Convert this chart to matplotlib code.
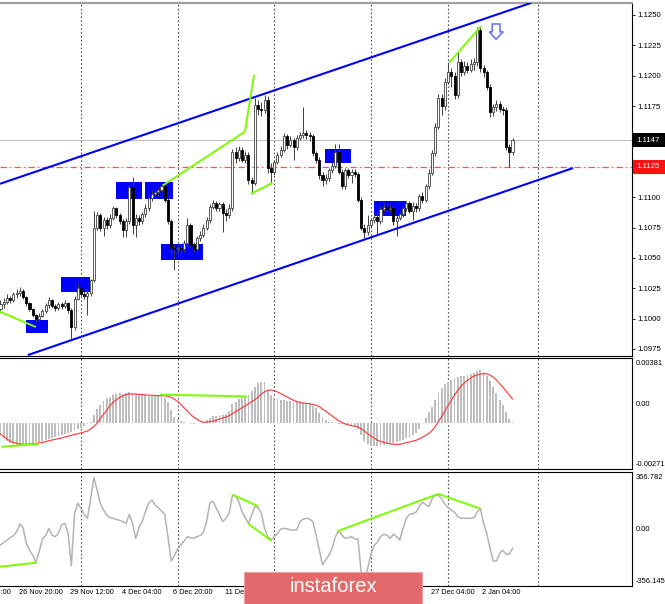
import matplotlib
matplotlib.use("Agg")
import matplotlib.pyplot as plt
import matplotlib.transforms as mtransforms
from matplotlib.patches import Rectangle, Polygon
import numpy as np

plt.rcParams['font.family'] = ['Liberation Sans', 'DejaVu Sans']

# ---------------- data (EURUSD H4) ----------------
first_open = 1.1008
closes = [
    1.1012, 1.1014, 1.1017, 1.1015, 1.1020, 1.1021, 1.1023, 1.1018, 1.1013, 1.1008,
    1.1003, 1.1000, 1.1002, 1.1006, 1.1011, 1.1015, 1.1010, 1.1009, 1.1012, 1.1010,
    1.1013, 1.1007, 1.0993, 1.1016, 1.1025, 1.1020, 1.1019, 1.1021, 1.1032, 1.1075,
    1.1085, 1.1075, 1.1081, 1.1077, 1.1083, 1.1091, 1.1085, 1.1080, 1.1073, 1.1080,
    1.1108, 1.1077, 1.1083, 1.1080, 1.1086, 1.1091, 1.1099, 1.1103, 1.1104, 1.1106,
    1.1109, 1.1098, 1.1080, 1.1058, 1.1057, 1.1058, 1.1057, 1.1062, 1.1077, 1.1061,
    1.1057, 1.1066, 1.1069, 1.1075, 1.1081, 1.1092, 1.1095, 1.1091, 1.1094, 1.1087,
    1.1085, 1.1091, 1.1137, 1.1132, 1.1139, 1.1131, 1.1135, 1.1114, 1.1112, 1.1176,
    1.1173, 1.1172, 1.1180, 1.1124, 1.1121, 1.1129, 1.1135, 1.1139, 1.1150, 1.1143,
    1.1147, 1.1141, 1.1149, 1.1151, 1.1153, 1.1151, 1.1150, 1.1136, 1.1131, 1.1118,
    1.1114, 1.1116, 1.1122, 1.1126, 1.1137, 1.1121, 1.1109, 1.1122, 1.1118, 1.1121,
    1.1119, 1.1098, 1.1075, 1.1071, 1.1077, 1.1081, 1.1084, 1.1080, 1.1090, 1.1092,
    1.1090, 1.1091, 1.1080, 1.1083, 1.1086, 1.1091, 1.1095, 1.1089, 1.1093, 1.1091,
    1.1101, 1.1098, 1.1109, 1.1120, 1.1136, 1.1158, 1.1182, 1.1175, 1.1195, 1.1203,
    1.1200, 1.1184, 1.1211, 1.1203, 1.1208, 1.1205, 1.1210, 1.1211, 1.1238, 1.1206,
    1.1203, 1.1191, 1.1170, 1.1174, 1.1177, 1.1173, 1.1172, 1.1141, 1.1137, 1.1147,
]
highs = [
    1.1015, 1.1017, 1.1020, 1.1019, 1.1022, 1.1024, 1.1026, 1.1024, 1.1019, 1.1014,
    1.1009, 1.1004, 1.1005, 1.1008, 1.1013, 1.1018, 1.1016, 1.1012, 1.1014, 1.1014,
    1.1015, 1.1014, 1.1009, 1.1019, 1.1029, 1.1026, 1.1023, 1.1024, 1.1033, 1.1089,
    1.1088, 1.1087, 1.1084, 1.1084, 1.1086, 1.1093, 1.1092, 1.1087, 1.1082, 1.1083,
    1.1110, 1.1117, 1.1086, 1.1085, 1.1088, 1.1094, 1.1102, 1.1106, 1.1107, 1.1108,
    1.1111, 1.1111, 1.1099, 1.1082, 1.1061, 1.1061, 1.1061, 1.1065, 1.1083, 1.1079,
    1.1063, 1.1068, 1.1072, 1.1078, 1.1084, 1.1094, 1.1098, 1.1097, 1.1096, 1.1096,
    1.1090, 1.1094, 1.1140, 1.1141, 1.1142, 1.1141, 1.1138, 1.1137, 1.1117, 1.1182,
    1.1180, 1.1178, 1.1184, 1.1183, 1.1128, 1.1131, 1.1137, 1.1142, 1.1153, 1.1152,
    1.1150, 1.1149, 1.1151, 1.1154, 1.1174, 1.1155, 1.1154, 1.1152, 1.1138, 1.1133,
    1.1121, 1.1119, 1.1124, 1.1129, 1.1144, 1.1144, 1.1123, 1.1124, 1.1124, 1.1123,
    1.1123, 1.1121, 1.1100, 1.1078, 1.1085, 1.1083, 1.1087, 1.1089, 1.1093, 1.1095,
    1.1094, 1.1094, 1.1093, 1.1085, 1.1088, 1.1093, 1.1097, 1.1097, 1.1096, 1.1095,
    1.1103, 1.1104, 1.1111, 1.1123, 1.1139, 1.1161, 1.1185, 1.1185, 1.1198, 1.1211,
    1.1206, 1.1203, 1.1220, 1.1214, 1.1212, 1.1211, 1.1214, 1.1215, 1.1240, 1.1241,
    1.1209, 1.1205, 1.1193, 1.1177, 1.1180, 1.1179, 1.1175, 1.1174, 1.1144, 1.1149,
]
lows = [
    1.1006, 1.1009, 1.1012, 1.1013, 1.1014, 1.1017, 1.1019, 1.1016, 1.1010, 1.1006,
    1.1001, 1.0997, 1.0997, 1.1001, 1.1005, 1.1009, 1.1009, 1.1006, 1.1007, 1.1008,
    1.1009, 1.1005, 1.0982, 1.0991, 1.1015, 1.1019, 1.1016, 1.1003, 1.1019, 1.1030,
    1.1073, 1.1072, 1.1068, 1.1074, 1.1075, 1.1081, 1.1083, 1.1078, 1.1067, 1.1067,
    1.1078, 1.1070, 1.1067, 1.1077, 1.1078, 1.1084, 1.1089, 1.1097, 1.1100, 1.1101,
    1.1104, 1.1096, 1.1078, 1.1052, 1.1040, 1.1054, 1.1054, 1.1055, 1.1060, 1.1059,
    1.1055, 1.1055, 1.1064, 1.1067, 1.1073, 1.1079, 1.1090, 1.1089, 1.1089, 1.1071,
    1.1080, 1.1083, 1.1089, 1.1128, 1.1130, 1.1129, 1.1128, 1.1111, 1.1103, 1.1110,
    1.1168, 1.1167, 1.1169, 1.1120, 1.1112, 1.1118, 1.1127, 1.1133, 1.1137, 1.1140,
    1.1141, 1.1131, 1.1139, 1.1147, 1.1149, 1.1148, 1.1146, 1.1134, 1.1128, 1.1115,
    1.1109, 1.1111, 1.1113, 1.1120, 1.1124, 1.1119, 1.1107, 1.1107, 1.1116, 1.1112,
    1.1117, 1.1096, 1.1073, 1.1066, 1.1069, 1.1075, 1.1079, 1.1070, 1.1078, 1.1088,
    1.1087, 1.1088, 1.1077, 1.1068, 1.1081, 1.1084, 1.1089, 1.1087, 1.1081, 1.1088,
    1.1089, 1.1095, 1.1096, 1.1107, 1.1118, 1.1134, 1.1156, 1.1168, 1.1172, 1.1193,
    1.1191, 1.1181, 1.1182, 1.1200, 1.1201, 1.1202, 1.1203, 1.1205, 1.1208, 1.1203,
    1.1199, 1.1188, 1.1166, 1.1167, 1.1171, 1.1170, 1.1168, 1.1139, 1.1125, 1.1135,
]
macd_hist = [
    -0.00067, -0.00090, -0.00106, -0.00117, -0.00125, -0.00129, -0.00129, -0.00125, -0.00121, -0.00119,
    -0.00115, -0.00114, -0.00110, -0.00106, -0.00100, -0.00094, -0.00090, -0.00084, -0.00077, -0.00071,
    -0.00065, -0.00057, -0.00051, -0.00041, -0.00036, -0.00028, -0.00018, -0.00008, 0.00007, 0.00046,
    0.00079, 0.00105, 0.00128, 0.00144, 0.00153, 0.00163, 0.00169, 0.00173, 0.00171, 0.00177,
    0.00179, 0.00173, 0.00169, 0.00167, 0.00163, 0.00163, 0.00159, 0.00159, 0.00157, 0.00159,
    0.00155, 0.00147, 0.00124, 0.00075, 0.00036, 0.00021, 0.00013, 0.00007, -0.00003, -0.00004,
    -0.00004, -0.00003, 0.00001, 0.00007, 0.00017, 0.00027, 0.00038, 0.00042, 0.00046, 0.00046,
    0.00050, 0.00070, 0.00108, 0.00124, 0.00140, 0.00147, 0.00153, 0.00163, 0.00186, 0.00212,
    0.00231, 0.00241, 0.00237, 0.00192, 0.00163, 0.00147, 0.00140, 0.00134, 0.00132, 0.00128,
    0.00128, 0.00124, 0.00120, 0.00120, 0.00114, 0.00110, 0.00108, 0.00101, 0.00085, 0.00056,
    0.00031, 0.00017, 0.00007, 0.00003, -0.00003, -0.00006, -0.00006, -0.00008, -0.00012, -0.00016,
    -0.00020, -0.00036, -0.00071, -0.00106, -0.00125, -0.00133, -0.00135, -0.00133, -0.00133, -0.00129,
    -0.00125, -0.00121, -0.00117, -0.00114, -0.00106, -0.00100, -0.00090, -0.00080, -0.00071, -0.00057,
    -0.00036, -0.00003, 0.00031, 0.00062, 0.00095, 0.00134, 0.00173, 0.00202, 0.00225, 0.00241,
    0.00253, 0.00260, 0.00268, 0.00272, 0.00276, 0.00280, 0.00286, 0.00290, 0.00303, 0.00307,
    0.00295, 0.00276, 0.00245, 0.00212, 0.00173, 0.00134, 0.00105, 0.00062, 0.00023, 0.00007,
]
macd_signal = [
    -0.00065, -0.00080, -0.00094, -0.00106, -0.00114, -0.00119, -0.00123, -0.00125, -0.00125, -0.00123,
    -0.00121, -0.00119, -0.00117, -0.00114, -0.00110, -0.00104, -0.00100, -0.00096, -0.00092, -0.00088,
    -0.00082, -0.00077, -0.00073, -0.00067, -0.00063, -0.00059, -0.00053, -0.00047, -0.00036, -0.00020,
    -0.00003, 0.00027, 0.00050, 0.00075, 0.00101, 0.00120, 0.00136, 0.00149, 0.00159, 0.00165,
    0.00169, 0.00169, 0.00169, 0.00167, 0.00165, 0.00163, 0.00163, 0.00161, 0.00161, 0.00159,
    0.00159, 0.00159, 0.00155, 0.00149, 0.00138, 0.00126, 0.00108, 0.00089, 0.00070, 0.00050,
    0.00034, 0.00021, 0.00011, 0.00003, 0.00005, 0.00007, 0.00011, 0.00015, 0.00023, 0.00029,
    0.00034, 0.00042, 0.00054, 0.00066, 0.00077, 0.00089, 0.00099, 0.00112, 0.00124, 0.00136,
    0.00151, 0.00169, 0.00182, 0.00190, 0.00192, 0.00188, 0.00181, 0.00171, 0.00161, 0.00151,
    0.00142, 0.00132, 0.00124, 0.00120, 0.00116, 0.00114, 0.00112, 0.00108, 0.00103, 0.00095,
    0.00081, 0.00068, 0.00054, 0.00040, 0.00027, 0.00013, 0.00003, -0.00006, -0.00012, -0.00016,
    -0.00020, -0.00024, -0.00034, -0.00047, -0.00063, -0.00077, -0.00088, -0.00100, -0.00108, -0.00114,
    -0.00119, -0.00123, -0.00125, -0.00125, -0.00125, -0.00121, -0.00115, -0.00112, -0.00106, -0.00102,
    -0.00094, -0.00084, -0.00073, -0.00061, -0.00045, -0.00022, 0.00009, 0.00038, 0.00071, 0.00103,
    0.00132, 0.00163, 0.00190, 0.00214, 0.00233, 0.00249, 0.00262, 0.00274, 0.00280, 0.00286,
    0.00288, 0.00286, 0.00280, 0.00268, 0.00251, 0.00229, 0.00208, 0.00186, 0.00163, 0.00140,
]
cci = [
    -97, -80, -67, -51, -38, -13, 36, 13, -86, -129,
    -160, -207, -139, -59, -38, 8, -34, -44, -23, 30,
    40, -23, -228, 103, 167, 135, 97, 72, 198, 329,
    251, 167, 124, 93, 78, 72, 65, 59, 51, 40,
    97, 40, -55, 13, 51, 114, 167, 188, 156, 139,
    118, 97, -44, -198, -164, -122, -97, -72, -44, -51,
    -55, -44, -36, -17, 51, 167, 181, 135, 97, 51,
    72, 103, 215, 215, 177, 114, 76, 40, 93, 146,
    139, 103, 8, -44, -65, -44, -25, 4, 8, 6,
    -2, -2, -2, 51, 67, 72, 67, 51, -34, -129,
    -223, -191, -160, -118, -44, -8, -34, -55, -51, -44,
    -59, -59, -266, -350, -244, -160, -101, -80, -44, -29,
    -34, -55, -29, -44, -65, 8, 72, 97, 101, 110,
    146, 173, 160, 146, 194, 219, 219, 194, 160, 139,
    124, 110, 82, 72, 72, 72, 72, 76, 110, 135,
    40, -23, -118, -198, -198, -150, -129, -156, -154, -118,
]

price_ticks = [1.0975, 1.1000, 1.1025, 1.1050, 1.1075, 1.1100,
               1.1125, 1.1150, 1.1175, 1.1200, 1.1225, 1.1250]
# time labels visible around the watermark
time_labels = ["22 Nov 04:00", "26 Nov 20:00", "29 Nov 12:00", "4 Dec 04:00",
               "6 Dec 20:00", "11 Dec 12:00", "23 Dec 12:00", "27 Dec 04:00",
               "2 Jan 04:00"]
time_label_bars = [-10, 6, 22, 38, 54, 70, 118, 134, 150]
week_grid_bars = [25, 55, 85, 115, 139, 167]
current_price = 1.1147
level_price = 1.1125
macd_range = (-0.00271, 0.00381)
cci_range = (-356.145, 366.782)

# annotation objects (bar index, price)
zones = [(7.9, 14.8, 1.09882, 1.09989), (18.8, 27.8, 1.10219, 1.10343),
         (35.9, 43.9, 1.10985, 1.11125), (44.9, 53.6, 1.10985, 1.11125),
         (49.8, 62.9, 1.10483, 1.10614), (100.8, 108.9, 1.11281, 1.11397),
         (116.0, 126.0, 1.10845, 1.10969)]
channel_upper = ((-0.16, 1.1111), (164.8, 1.1260))
channel_lower = ((8.5, 1.0970), (177.8, 1.1124))
price_divergences = [[(-0.16, 1.10057), (10.7, 1.09934)],
                     [(50.6, 1.11100), (75.9, 1.11539), (78.7, 1.12000)],
                     [(78.0, 1.11032), (84.2, 1.11114)],
                     [(139.6, 1.12115), (148.9, 1.12399)]]
macd_divergences = [[(0.5, -0.00139), (11.7, -0.00123)],
                    [(49.9, 0.00165), (76.2, 0.00155)]]
cci_divergences = [[(-0.16, -234), (11.0, -209)],
                   [(72.3, 219), (79.8, 150)],
                   [(77.2, 34), (83.9, -67)],
                   [(104.8, -8), (135.9, 226), (148.7, 135)]]
arrow_shape = [(152.7, 1.12426), (155.1, 1.12426), (155.1, 1.12362), (156.1, 1.12362),
               (153.9, 1.12300), (151.8, 1.12362), (152.7, 1.12362)]

# ---------------- layout ----------------
W, H = 665, 604
fig = plt.figure(figsize=(W / 100, H / 100), dpi=100)
fig.patch.set_facecolor('white')

def rect(top, bottom, right=632):
    return [0, 1 - bottom / H, right / W, (bottom - top) / H]

ax1 = fig.add_axes(rect(3, 355.5))
ax2 = fig.add_axes(rect(357.7, 469.3))
ax3 = fig.add_axes(rect(471.7, 586))

xlim = (-0.155, 196.1)
px_price = 0.0275 / 334.0

for ax in (ax1, ax2, ax3):
    ax.set_xlim(*xlim)
    ax.set_xticks([])
    ax.spines['left'].set_visible(False)
    for s in ('right', 'bottom', 'top'):
        ax.spines[s].set_color('black')
        ax.spines[s].set_linewidth(0.8)
    for gx in week_grid_bars:
        ax.axvline(gx, color='#505050', lw=0.8, ls=(0, (1.5, 2)), zorder=0.5)
    ax.set_facecolor('white')

ax1.spines['top'].set_color('#a0a0a0')
ax1.spines['top'].set_linewidth(1.6)

# ---------------- main price panel ----------------
ax1.set_ylim(1.126235 - px_price * 355.5, 1.126235 - px_price * 3)
x = np.arange(len(closes))
opens = [first_open] + closes[:-1]
o = np.array(opens); c = np.array(closes)
up = c >= o
body_lo = np.minimum(o, c)
body_h = np.maximum(np.abs(c - o), 0.00002)
ax1.vlines(x, lows, highs, color='#404040', lw=0.7, zorder=3)
ax1.bar(x, body_h, bottom=body_lo, width=0.64,
        color=np.where(up, 'white', 'black'),
        edgecolor=np.where(up, '#404040', 'black'), linewidth=0.6, zorder=4)

for (x0, x1, p0, p1) in zones:
    ax1.add_patch(Rectangle((x0, p0), x1 - x0, p1 - p0, facecolor='#0000ff',
                            edgecolor='none', zorder=2))

ax1.axhline(current_price, color='#c0c0c0', lw=0.8, zorder=1.5)
ax1.axhline(level_price, color='#ff5050', lw=0.9, ls=(0, (5, 2.5, 1.2, 2.5)), zorder=1.5)

for (a, b) in (channel_upper, channel_lower):
    ax1.plot([a[0], b[0]], [a[1], b[1]], color='#0000ff', lw=1.5, zorder=6,
             solid_capstyle='butt')
for seg in price_divergences:
    xs, ys = zip(*seg)
    ax1.plot(xs, ys, color='#7cfc00', lw=1.4, zorder=6)
ax1.add_patch(Polygon(arrow_shape, closed=True, facecolor='white',
                      edgecolor='#6a78ff', lw=1.2, zorder=7))

ax1.yaxis.tick_right()
ax1.set_yticks(price_ticks)
ax1.set_yticklabels([f"{p:.4f}" for p in price_ticks])
ax1.tick_params(axis='y', length=2.5, width=0.6, pad=1.2, labelsize=5.6, colors='black')

blend1 = mtransforms.blended_transform_factory(ax1.transAxes, ax1.transData)
for price, fc in ((current_price, 'black'), (level_price, '#ff1010')):
    ax1.add_patch(Rectangle((1.0016, price - 7 * px_price), 0.06, 14 * px_price,
                            transform=blend1, facecolor=fc, edgecolor='none',
                            clip_on=False, zorder=20))
    ax1.text(1.0065, price, f"{price:.4f}", transform=blend1, color='white',
             fontsize=5.6, ha='left', va='center', clip_on=False, zorder=21)

# ---------------- MACD panel ----------------
ax2.set_ylim(*macd_range)
ax2.set_yticks([])
ax2.bar(x, macd_hist, width=0.58, color='#bebebe', zorder=2)
ax2.plot(x, macd_signal, color='#ff3333', lw=0.8, zorder=3)
for seg in macd_divergences:
    xs, ys = zip(*seg)
    ax2.plot(xs, ys, color='#7cfc00', lw=1.4, zorder=4)
ax2.text(1.006, 0.95, f"{macd_range[1]:.5f}", transform=ax2.transAxes,
         fontsize=5.4, ha='left', va='center', clip_on=False)
ax2.text(1.006, macd_range[1] / (macd_range[1] - macd_range[0]), "0.00",
         transform=ax2.transAxes, fontsize=5.4, ha='left', va='center', clip_on=False)
ax2.text(1.006, 0.047, f"{macd_range[0]:.5f}", transform=ax2.transAxes,
         fontsize=5.4, ha='left', va='center', clip_on=False)

# ---------------- CCI panel ----------------
ax3.set_ylim(*cci_range)
ax3.set_yticks([])
ax3.plot(x, cci, color='#b4b4b4', lw=1.1, zorder=2)
for seg in cci_divergences:
    xs, ys = zip(*seg)
    ax3.plot(xs, ys, color='#7cfc00', lw=1.4, zorder=4)
ax3.text(1.006, 0.948, f"{cci_range[1]:.3f}", transform=ax3.transAxes,
         fontsize=5.4, ha='left', va='center', clip_on=False)
ax3.text(1.006, cci_range[1] / (cci_range[1] - cci_range[0]) - 0.01, "0.00",
         transform=ax3.transAxes, fontsize=5.4, ha='left', va='center', clip_on=False)
ax3.text(1.006, 0.038, f"{cci_range[0]:.3f}", transform=ax3.transAxes,
         fontsize=5.4, ha='left', va='center', clip_on=False)

blend3 = mtransforms.blended_transform_factory(ax3.transData, ax3.transAxes)
for lbl, b in zip(time_labels, time_label_bars):
    ax3.text(b - 0.4, -0.061, lbl, transform=blend3, fontsize=5.3,
             ha='left', va='center', clip_on=False)

# ---------------- watermark ----------------
fig.patches.append(Rectangle((244 / W, 0), (422 - 244) / W, (604 - 572) / H,
                             transform=fig.transFigure, facecolor='#e26a6a',
                             edgecolor='#eea0a0', lw=0.8, zorder=30))
fig.text(333 / W, (604 - 592.3) / H, "instaforex", color='white', fontsize=14.5,
         ha='center', va='baseline', zorder=31)

fig.savefig('out.png', dpi=100)
